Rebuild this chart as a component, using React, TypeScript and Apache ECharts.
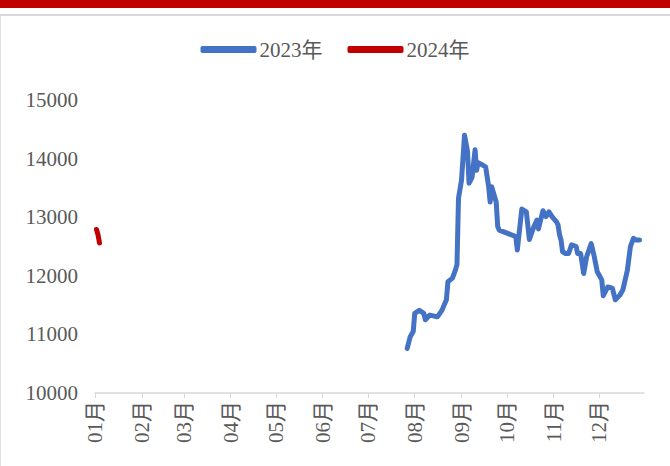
import React, { useEffect, useRef } from "react";
import * as echarts from "echarts";

const seriesNames = ["2023年", "2024年"];

// month-day of each observation (plotted on a common seasonal year axis)
const dates2023 = [
  "07-27", "07-29", "07-31", "08-01", "08-04", "08-07", "08-08", "08-11", "08-16", "08-19",
  "08-22", "08-23", "08-26", "08-28", "08-29", "08-30", "09-01", "09-03", "09-05", "09-06",
  "09-08", "09-10", "09-11", "09-12", "09-15", "09-17", "09-19", "09-20", "09-21", "09-24",
  "09-25", "09-26", "10-07", "10-08", "10-11", "10-14", "10-16", "10-19", "10-21", "10-22",
  "10-25", "10-27", "10-29", "10-31", "11-03", "11-04", "11-05", "11-06", "11-07", "11-09",
  "11-11", "11-13", "11-16", "11-17", "11-19", "11-21", "11-23", "11-26", "11-28", "11-30",
  "12-03", "12-04", "12-07", "12-10", "12-12", "12-15", "12-17", "12-20", "12-22", "12-24",
  "12-26", "12-28",
];
const values2023 = [
  10760, 10960, 11050, 11360, 11410, 11360, 11250, 11330, 11300, 11410,
  11590, 11900, 11960, 12100, 12190, 13320, 13630, 14400, 14120, 13580,
  13680, 14150, 13800, 13930, 13890, 13860, 13520, 13260, 13520, 13260,
  12840, 12780, 12670, 12440, 13140, 13090, 12620, 12840, 12950, 12800,
  13110, 13010, 13090, 13010, 12920, 12870, 12700, 12610, 12410, 12380,
  12380, 12530, 12500, 12380, 12380, 12040, 12330, 12550, 12330, 12070,
  11930, 11660, 11810, 11790, 11590, 11670, 11760, 12100, 12500, 12640,
  12610, 12610,
];

const dates2024 = ["01-02", "01-03", "01-04"];
const values2024 = [12790, 12700, 12560];

const yTicks = [10000, 11000, 12000, 13000, 14000, 15000];
const axisYear = 2023;
const monthLabelSuffix = "月";

const FONT = '"Liberation Serif", "Noto Sans CJK SC", serif';
const TEXT = "#595959";

export default function App() {
  const ref = useRef<HTMLDivElement>(null);
  useEffect(() => {
    if (!ref.current) return;
    const chart = echarts.init(ref.current, undefined, { renderer: "svg" });
    const toPts = (ds: string[], vs: number[]) =>
      ds.map((d, i) => [`${axisYear}-${d}`, vs[i]]);
    chart.setOption({
      animation: false,
      backgroundColor: "#ffffff",
      textStyle: { fontFamily: FONT },
      graphic: [
        { type: "rect", left: 0, top: 0, shape: { width: 670, height: 8 }, style: { fill: "#C00000" } },
        { type: "rect", left: 0, top: 14, shape: { width: 670, height: 2 }, style: { fill: "#d9d9d9" } },
        { type: "rect", left: 0, top: 16, shape: { width: 1, height: 450 }, style: { fill: "#e0e0e0" } },
      ],
      legend: {
        top: 34,
        left: "center",
        itemWidth: 56,
        itemHeight: 7,
        itemGap: 25,
        icon: "roundRect",
        textStyle: { fontSize: 21, color: TEXT, fontFamily: FONT, padding: [0, 0, 0, -2] },
        data: seriesNames,
      },
      grid: { left: 95, right: 26, top: 100, bottom: 73, containLabel: false },
      xAxis: {
        type: "time",
        min: `${axisYear}-01-01`,
        max: `${axisYear}-12-31`,
        minInterval: 28 * 24 * 3600 * 1000,
        maxInterval: 31 * 24 * 3600 * 1000,
        splitNumber: 12,
        axisLine: { show: true, lineStyle: { color: "#d9d9d9", width: 1.5 } },
        axisTick: { show: true, length: 5, lineStyle: { color: "#d9d9d9" } },
        splitLine: { show: false },
        axisLabel: {
          rotate: 90,
          margin: 8,
          fontSize: 21,
          color: TEXT,
          fontFamily: FONT,
          showMaxLabel: false,
          formatter: (v: number) => {
            const m = new Date(v).getMonth() + 1;
            return (m < 10 ? "0" + m : "" + m) + monthLabelSuffix;
          },
        },
      },
      yAxis: {
        type: "value",
        min: yTicks[0],
        max: yTicks[yTicks.length - 1],
        interval: 1000,
        axisLine: { show: false },
        axisTick: { show: false },
        splitLine: { show: false },
        axisLabel: {
          fontSize: 21,
          color: TEXT,
          fontFamily: FONT,
          margin: 17,
          formatter: (v: number) => String(v),
        },
      },
      series: [
        {
          name: seriesNames[0],
          type: "line",
          data: toPts(dates2023, values2023),
          showSymbol: false,
          symbol: "none",
          color: "#4472C4",
          lineStyle: { width: 5, color: "#4472C4", cap: "round", join: "round" },
        },
        {
          name: seriesNames[1],
          type: "line",
          data: toPts(dates2024, values2024),
          showSymbol: false,
          symbol: "none",
          color: "#C00000",
          lineStyle: { width: 5, color: "#C00000", cap: "round", join: "round" },
        },
      ],
    });
    return () => chart.dispose();
  }, []);
  return (
    <div
      ref={ref}
      style={{ position: "absolute", left: 0, top: 0, width: 670, height: 466 }}
    />
  );
}
